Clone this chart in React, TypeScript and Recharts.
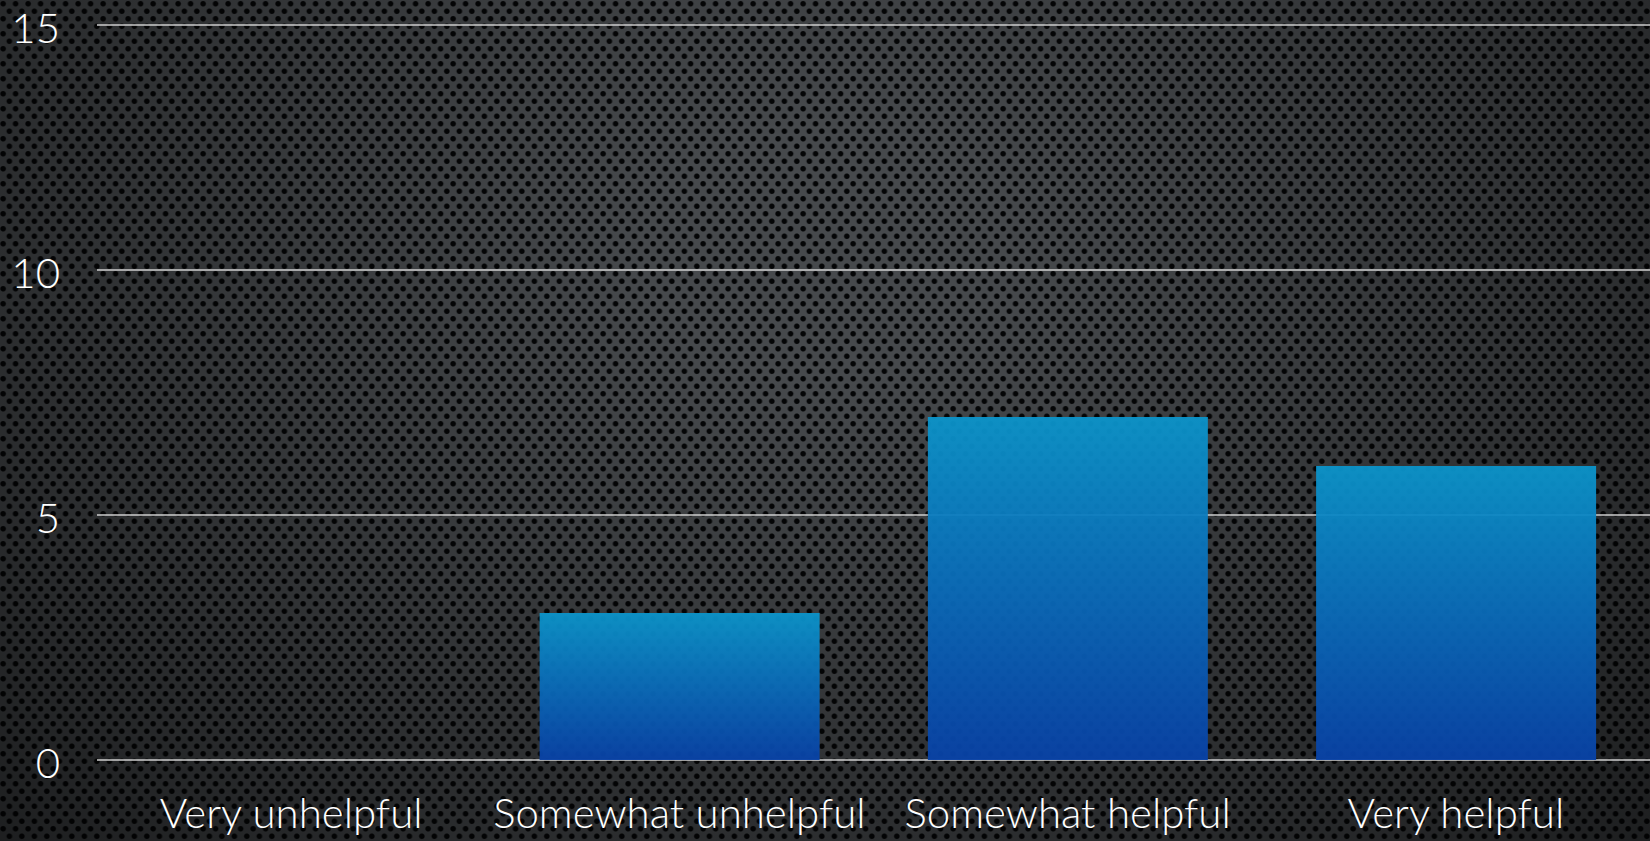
import React from "react";
import { BarChart, Bar, XAxis, YAxis, CartesianGrid } from "recharts";

const categories = ["Very unhelpful", "Somewhat unhelpful", "Somewhat helpful", "Very helpful"];
const counts = [0, 3, 7, 6];
const yTicks = [0, 5, 10, 15];

const data = categories.map((name, i) => ({ name, count: counts[i] }));

const FONT = "'Lato', 'Roboto', 'Liberation Sans', sans-serif";

const YTick = (props: any) => {
  const { y, payload } = props;
  return (
    <text x={60} y={y} dy={18} textAnchor="end" fill="#ffffff" fontSize={42} fontWeight={300} fontFamily={FONT}>
      {payload.value}
    </text>
  );
};

const XTick = (props: any) => {
  const { x, y, payload } = props;
  return (
    <text x={x} y={y} dy={60} textAnchor="middle" fill="#ffffff" fontSize={42} fontWeight={300} fontFamily={FONT}>
      {payload.value}
    </text>
  );
};

// perforated metal backdrop: two offset rows of holes plus a soft vignette
const background = [
  "radial-gradient(ellipse at 50% 30%, rgba(0,0,0,0) 15%, rgba(0,0,0,0.58) 100%)",
  "radial-gradient(circle at 3.1px 3.75px, #040506 2.2px, rgba(4,5,6,0) 3.3px)",
  "radial-gradient(circle at 9.35px 11.25px, #040506 2.2px, rgba(4,5,6,0) 3.3px)",
].join(", ");

export default function App() {
  return (
    <div
      style={{
        position: "fixed",
        left: 0,
        top: 0,
        width: 1650,
        height: 841,
        backgroundColor: "#46494c",
        backgroundImage: background,
        backgroundSize: "auto, 12.5px 15px, 12.5px 15px",
        overflow: "hidden",
      }}
    >
      <BarChart
        width={1650}
        height={841}
        data={data}
        margin={{ top: 25, right: 0, bottom: 51, left: 0 }}
        barCategoryGap="14%"
      >
        <defs>
          <linearGradient id="barFill" x1="0" y1="0" x2="0" y2="1">
            <stop offset="0%" stopColor="#0b94ca" />
            <stop offset="100%" stopColor="#0842a7" />
          </linearGradient>
        </defs>
        <CartesianGrid vertical={false} stroke="#cfcfcf" strokeWidth={1.5} />
        <XAxis dataKey="name" axisLine={false} tickLine={false} tick={<XTick />} interval={0} />
        <YAxis
          width={97}
          domain={[0, 15]}
          ticks={yTicks}
          axisLine={false}
          tickLine={false}
          tick={<YTick />}
        />
        <Bar dataKey="count" fill="url(#barFill)" fillOpacity={0.95} isAnimationActive={false} />
      </BarChart>
    </div>
  );
}
